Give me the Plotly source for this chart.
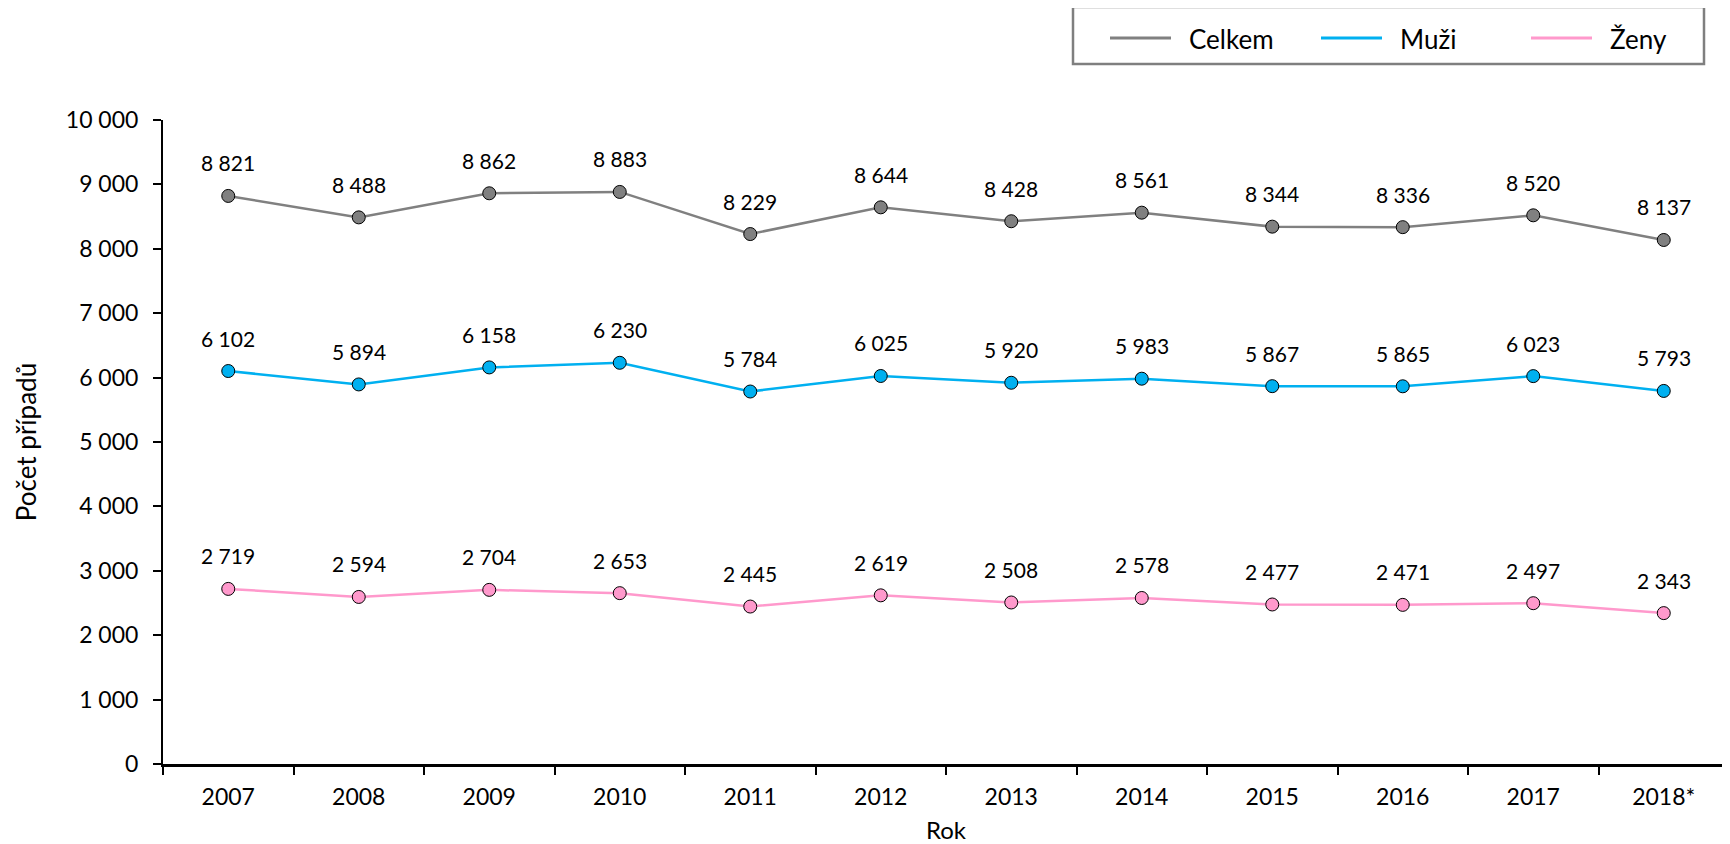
import plotly.graph_objects as go

years = ["2007", "2008", "2009", "2010", "2011", "2012", "2013", "2014", "2015", "2016", "2017", "2018*"]
celkem = [8821, 8488, 8862, 8883, 8229, 8644, 8428, 8561, 8344, 8336, 8520, 8137]
muzi = [6102, 5894, 6158, 6230, 5784, 6025, 5920, 5983, 5867, 5865, 6023, 5793]
zeny = [2719, 2594, 2704, 2653, 2445, 2619, 2508, 2578, 2477, 2471, 2497, 2343]

series = [("Celkem", celkem, "#808080"), ("Muži", muzi, "#00B0F0"), ("Ženy", zeny, "#FF99CC")]

FONT = "Lato"
OFF = 8  # page body margin
W, H = 1722, 836
L, R, T, B = 155, 1, 112, 80

fig = go.Figure()
for name, vals, col in series:
    fig.add_trace(go.Scatter(
        x=years, y=vals, name=name, mode="lines+markers", showlegend=False,
        line=dict(color=col, width=2.5),
        marker=dict(size=13, color=col, line=dict(color="black", width=1)),
    ))
    for i, v in enumerate(vals):
        fig.add_annotation(x=i, y=v, text=f"{v:,}".replace(",", " "), showarrow=False,
                           yshift=33, font=dict(family=FONT, size=21, color="black"))

pw = W - L - R
ph = H - T - B
def px(xp):
    return (xp - OFF - L) / pw
def py(yp):
    return (H - B - (yp - OFF)) / ph

# legend frame
fig.add_shape(type="rect", xref="paper", yref="paper",
              x0=px(1073), x1=px(1704), y0=py(64), y1=py(7),
              line=dict(color="#7F7F7F", width=2.5), fillcolor="white", layer="below")
# legend entries (line sample + label)
leg_line_x = [1110, 1321, 1531]
leg_text_x = [1187, 1398, 1608]
for (name, vals, col), lx, tx in zip(series, leg_line_x, leg_text_x):
    fig.add_shape(type="line", xref="paper", yref="paper",
                  x0=px(lx), x1=px(lx + 61), y0=py(38), y1=py(38),
                  line=dict(color=col, width=3))
    fig.add_annotation(xref="paper", yref="paper", x=px(tx), y=py(39),
                       xanchor="left", yanchor="middle", showarrow=False, text=name,
                       font=dict(family=FONT, size=26, color="black"))

fig.update_layout(
    width=W, height=H,
    margin=dict(l=L, r=R, t=T, b=B, autoexpand=False),
    paper_bgcolor="white", plot_bgcolor="white",
    separators=". ",
    font=dict(family=FONT, size=21, color="black"),
    showlegend=False,
    xaxis=dict(type="category", range=[-0.5, 11.5], showgrid=False,
               showline=True, linecolor="black", linewidth=3,
               ticks="outside", tickson="boundaries", ticklen=8, tickwidth=2, tickcolor="black",
               tickfont=dict(family=FONT, size=23), ticklabelstandoff=10,
               title=dict(text="Rok", font=dict(family=FONT, size=24), standoff=14),
               automargin=False),
    yaxis=dict(range=[0, 10000], dtick=1000, tickformat=",d", showgrid=False, zeroline=False,
               showline=True, linecolor="black", linewidth=2,
               ticks="outside", ticklen=8, tickwidth=2, tickcolor="black",
               tickfont=dict(family=FONT, size=23), ticklabelstandoff=10,
               title=dict(text="Počet případů", font=dict(family=FONT, size=26), standoff=22),
               automargin=False),
)

fig.write_html("out.html")
